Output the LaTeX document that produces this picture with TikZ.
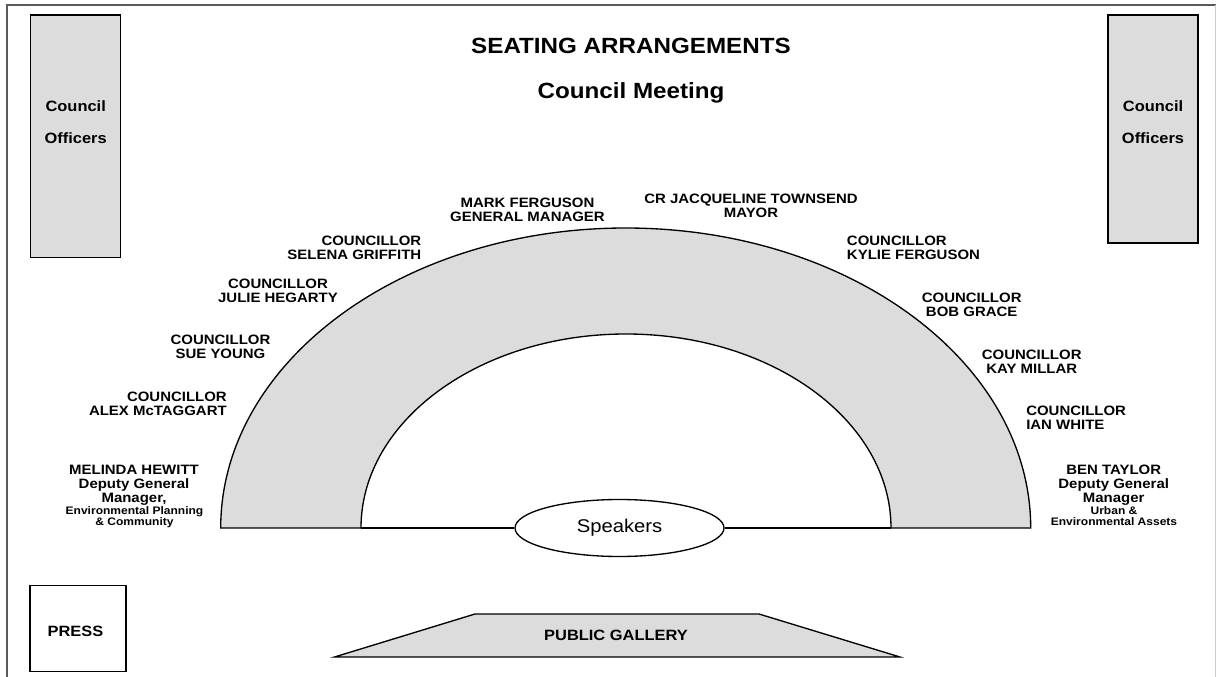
\documentclass[tikz,border=0pt]{standalone}
\usepackage{fontspec}
\setmainfont{Liberation Sans}[FakeStretch=1.1]
\usetikzlibrary{shapes.geometric}
\definecolor{seatgray}{RGB}{220,220,220}
\definecolor{framegray}{RGB}{90,90,90}
\definecolor{edgegray}{RGB}{205,205,205}

\begin{document}
\begin{tikzpicture}[x=0.75pt,y=-0.75pt,
  outline/.style={draw=black,line width=1pt},
  seat/.style={outline,fill=seatgray},
  headtext/.style={font=\fontsize{16.5}{19}\selectfont\bfseries,inner sep=0pt,anchor=base},
  person/.style={font=\fontsize{10.2}{10.5}\selectfont\bfseries,inner sep=0pt,align=center,anchor=north},
  roletext/.style={font=\fontsize{8.2}{7.7}\selectfont\bfseries,inner sep=0pt,align=center,anchor=north},
  boxtext/.style={font=\fontsize{11.2}{24}\selectfont\bfseries,inner sep=0pt,align=center},
]
% page and frame
\useasboundingbox (0,0) rectangle (1218,677);
\fill[white] (0,0) rectangle (1218,677);
\draw[framegray,line width=1.5pt] (6.5,677) -- (6.5,5.5) -- (1216,5.5);
\draw[edgegray,line width=0.8pt] (1215.5,5.5) -- (1215.5,677);

% headings
\node[headtext] (heading) at (631,53.3) {SEATING ARRANGEMENTS};
\node[headtext] (meeting) at (631,98.3) {Council Meeting};

% officers' tables
\draw[seat] (30.7,15) rectangle (120.7,257.7);
\draw[seat] (1108,15) rectangle (1198,243);
\node[boxtext,anchor=north] (offL) at (75.7,100.7) {Council\\Officers};
\node[boxtext,anchor=north] (offR) at (1153,100.7) {Council\\Officers};

% horseshoe table
\draw[seat] (220.7,528) arc[start angle=180,end angle=360,x radius=405,y radius=300]
  -- (891,528) coordinate (innerR)
  arc[start angle=360,end angle=180,x radius=265,y radius=194] coordinate (innerL)
  -- cycle;

% speakers' lectern
\node[outline,ellipse,fill=white,minimum width=156.75pt,minimum height=42.75pt,
      inner sep=0pt,font=\fontsize{13.8}{16}\selectfont] (spk) at (619.5,528) {Speakers};
\draw[outline] (innerL) -- (spk.west);
\draw[outline] (spk.east) -- (innerR);

% public gallery and press
\draw[seat] (334.5,657) -- (475,614) -- (759,614) -- (900,657) -- cycle;
\node[boxtext,anchor=base] (gallery) at (616,640.4) {PUBLIC GALLERY};
\draw[outline,fill=white] (30,585.7) rectangle (126,671.7);
\node[boxtext,anchor=base] (press) at (75.5,636) {PRESS};

% seats, left side
\node[person] (hewitt) at (134,464.4) {MELINDA HEWITT\\Deputy General\\Manager,};
\node[roletext] (hewittrole) at (134.5,506.8) {Environmental Planning\\\& Community};
\node[person,anchor=north east,align=right] (mctaggart) at (227,391.8) {COUNCILLOR\\ALEX McTAGGART};
\node[person] (young) at (220.5,335.1) {COUNCILLOR\\SUE YOUNG};
\node[person] (hegarty) at (278,278.4) {COUNCILLOR\\JULIE HEGARTY};
\node[person,anchor=north east,align=right] (griffith) at (421.5,235.8) {COUNCILLOR\\SELENA GRIFFITH};
\node[person] (ferguson) at (527.5,197.8) {MARK FERGUSON\\GENERAL MANAGER};

% seats, right side
\node[person] (townsend) at (751,194.1) {CR JACQUELINE TOWNSEND\\MAYOR};
\node[person,anchor=north west,align=left] (kylie) at (846.7,235.8) {COUNCILLOR\\KYLIE FERGUSON};
\node[person] (grace) at (971.7,292.8) {COUNCILLOR\\BOB GRACE};
\node[person] (millar) at (1031.7,349.4) {COUNCILLOR\\KAY MILLAR};
\node[person,anchor=north west,align=left] (white) at (1026,406.1) {COUNCILLOR\\IAN WHITE};
\node[person] (taylor) at (1113.7,464.4) {BEN TAYLOR\\Deputy General\\Manager};
\node[roletext] (taylorrole) at (1114,506.8) {Urban \&\\Environmental Assets};
\end{tikzpicture}
\end{document}
